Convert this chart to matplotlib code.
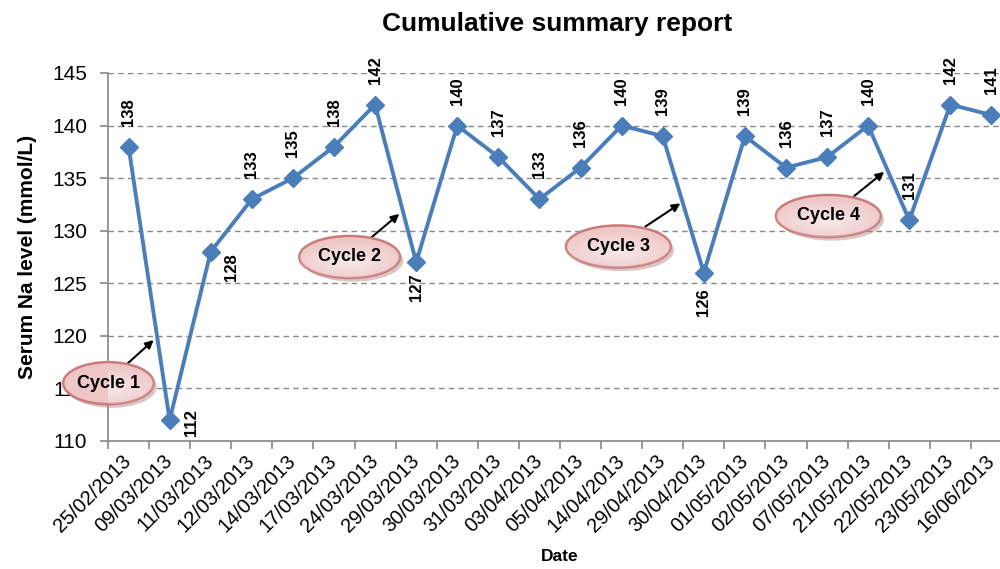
import matplotlib
matplotlib.use("Agg")
import matplotlib.pyplot as plt
import numpy as np
from matplotlib.patches import Ellipse

plt.rcParams['font.family'] = ['Liberation Sans', 'DejaVu Sans']

dates = ["25/02/2013", "09/03/2013", "11/03/2013", "12/03/2013", "14/03/2013",
         "17/03/2013", "24/03/2013", "29/03/2013", "30/03/2013", "31/03/2013",
         "03/04/2013", "05/04/2013", "14/04/2013", "29/04/2013", "30/04/2013",
         "01/05/2013", "02/05/2013", "07/05/2013", "21/05/2013", "22/05/2013",
         "23/05/2013", "16/06/2013"]
sodium = [138, 112, 128, 133, 135, 138, 142, 127, 140, 137, 133, 136, 140, 139,
          126, 139, 136, 137, 140, 131, 142, 141]

# label placement (offset points, va) for labels not placed above the marker
label_layout = {1: ((16, -2), 'center'), 2: ((15, -1), 'top'),
                7: ((0, -8), 'top'), 14: ((0, -11), 'top')}

cycle_names = ["Cycle 1", "Cycle 2", "Cycle 3", "Cycle 4"]
cycle_centers = [(-0.49, 115.5), (5.38, 127.5), (11.92, 128.5), (17.03, 131.4)]
cycle_arrow_start = [(-0.1, 117.1), (5.86, 129.2), (12.58, 130.4), (17.66, 133.3)]
cycle_arrow_tip = [(0.61, 119.6), (6.59, 131.6), (13.43, 132.6), (18.39, 135.6)]
cycle_widths = [2.2, 2.45, 2.55, 2.55]

W, H = 1000, 569
fig = plt.figure(figsize=(W / 100, H / 100), dpi=100)
ax = fig.add_axes([108 / W, 1 - 441 / H, 904 / W, (441 - 73) / H])

blue = '#4a7ebb'
x = np.arange(len(dates))
ax.plot(x, sodium, color=blue, lw=2.8, marker='D', ms=9, zorder=3, clip_on=False)

ax.set_xlim(-0.5, len(dates) - 0.5)
ax.set_ylim(110, 145)
ax.set_yticks(np.arange(110, 146, 5))
ax.tick_params(axis='y', labelsize=15, length=6, color='#868686', width=1.2, pad=9)
ax.set_xticks(x)
ax.set_xticklabels(dates, rotation=45, ha='right', va='center',
                   rotation_mode='anchor', fontsize=14.5)
ax.set_xticks(np.arange(-0.5, len(dates), 1), minor=True)
ax.tick_params(axis='x', which='major', length=0, pad=12)
ax.tick_params(axis='x', which='minor', length=6, color='#868686', width=1.2)
for s in ['top', 'right']:
    ax.spines[s].set_visible(False)
for s in ['left', 'bottom']:
    ax.spines[s].set_color('#868686')
    ax.spines[s].set_linewidth(1.2)
ax.yaxis.grid(True, ls=(0, (4, 3)), color='#888888', lw=1)
ax.set_axisbelow(True)

for i, v in enumerate(sodium):
    if i in label_layout:
        off, va = label_layout[i]
        ax.annotate(str(v), (i, v), xytext=off, textcoords='offset points',
                    rotation=90, ha='center', va=va, fontsize=12, fontweight='bold')
    else:
        ax.annotate(str(v), (i, v), xytext=(0, 15), textcoords='offset points',
                    rotation=90, ha='center', va='bottom', fontsize=12, fontweight='bold')

fig.text(557 / W, 1 - 24 / H, "Cumulative summary report", fontsize=19,
         fontweight='bold', ha='center', va='center')
ax.set_ylabel("Serum Na level (mmol/L)", fontsize=15, fontweight='bold', labelpad=11)
ax.set_xlabel("Date", fontsize=12.5, fontweight='bold', labelpad=10)

for name, c, a0, a1, w in zip(cycle_names, cycle_centers, cycle_arrow_start,
                              cycle_arrow_tip, cycle_widths):
    ax.annotate("", xy=a1, xytext=a0,
                arrowprops=dict(arrowstyle='-|>', color='black', lw=1.5,
                                mutation_scale=12, shrinkA=0, shrinkB=0),
                zorder=5, annotation_clip=False)
    sh = Ellipse((c[0] + 0.08, c[1] - 0.35), w, 4.0, facecolor='#b08080',
                 edgecolor='none', alpha=0.45, zorder=5, clip_on=False)
    ax.add_patch(sh)
    el = Ellipse(c, w, 4.0, facecolor='#eec6c6', edgecolor='#c97b7b', lw=1.8,
                 zorder=6, clip_on=False)
    ax.add_patch(el)
    xs = np.linspace(-1, 1, 200)
    X, Y = np.meshgrid(xs, xs)
    grad = np.clip(1 - np.sqrt(X ** 2 * 0.6 + (Y + 0.25) ** 2), 0, 1)
    img = np.zeros((200, 200, 4))
    img[..., 0] = 0.98
    img[..., 1] = 0.93
    img[..., 2] = 0.93
    img[..., 3] = grad * 0.9
    im = ax.imshow(img, extent=(c[0] - w / 2, c[0] + w / 2, c[1] - 2, c[1] + 2),
                   origin='lower', zorder=6.5, aspect='auto', clip_on=True)
    im.set_clip_path(el)
    ax.text(c[0], c[1], name, ha='center', va='center', fontsize=13,
            fontweight='bold', zorder=7, clip_on=False)

ax.set_xlim(-0.5, len(dates) - 0.5)
ax.set_ylim(110, 145)
fig.savefig("out.png", dpi=100)
